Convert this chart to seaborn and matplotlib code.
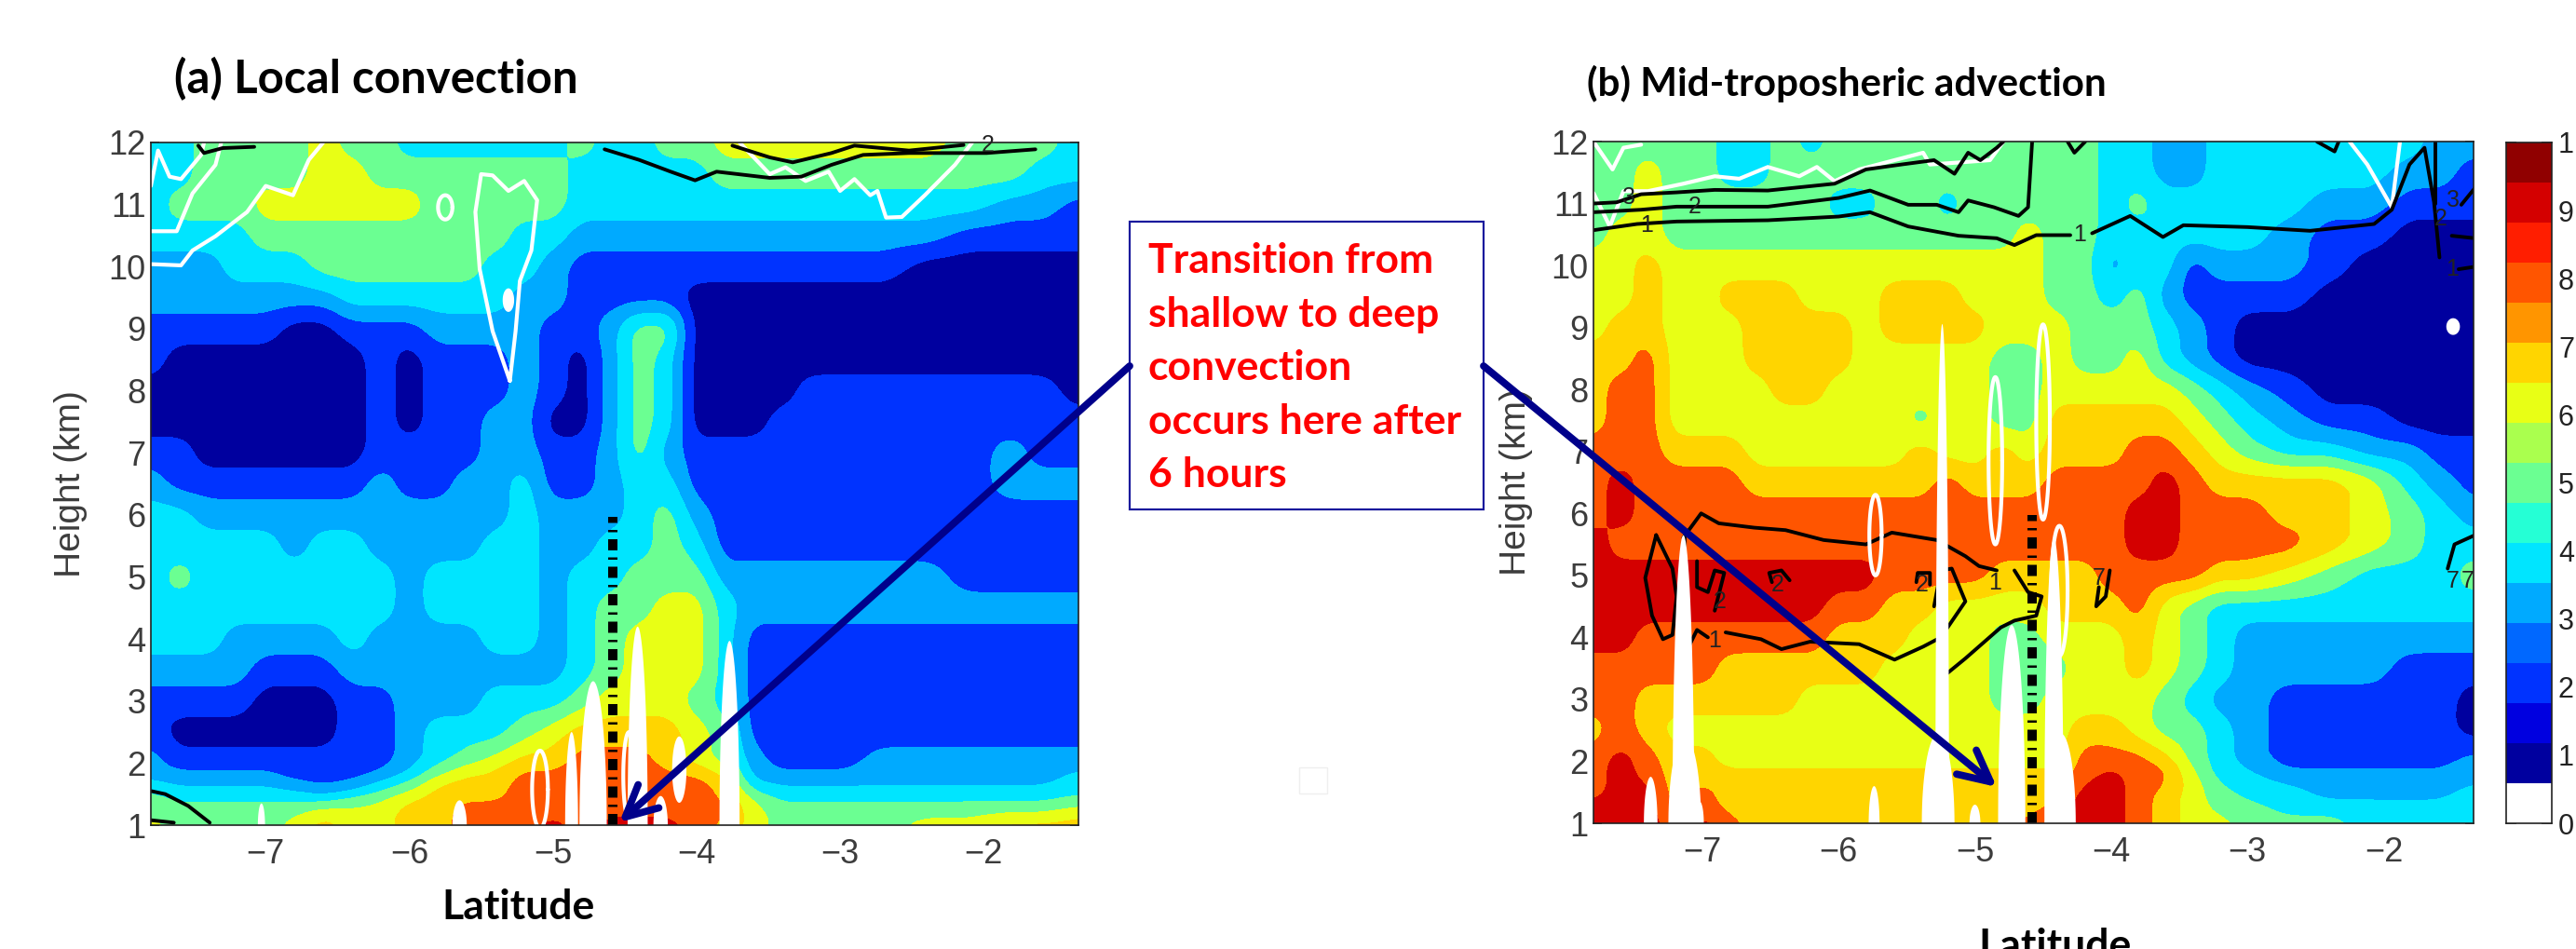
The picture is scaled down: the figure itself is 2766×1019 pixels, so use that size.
import numpy as np
import seaborn as sns
import matplotlib
matplotlib.use('Agg')
import matplotlib.pyplot as plt
from matplotlib.colors import ListedColormap
from matplotlib.patches import Rectangle

# latitude / height grid of both sections
lats = [-7.8, -7.6, -7.4, -7.2, -7.0, -6.8, -6.6, -6.4, -6.2, -6.0, -5.8, -5.6, -5.4, -5.2, -5.0, -4.8,
        -4.6, -4.4, -4.2, -4.0, -3.8, -3.6, -3.4, -3.2, -3.0, -2.7, -2.4, -2.1, -1.8, -1.6, -1.34]
heights = [12, 11.5, 11, 10.5, 10, 9.5, 9, 8.5, 8, 7.5, 7, 6.5, 6, 5.5, 5, 4.5, 4, 3.5, 3, 2.5, 2, 1.75, 1.5, 1.25, 1]

# relative humidity in tenths (top row = 12 km)
rh_local = [
    [4, 4, 5, 5, 5, 5, 6, 5, 5, 4, 4, 4, 4, 4, 4, 5, 4, 4, 5, 5, 6, 6, 6, 6, 6, 6, 6, 5, 5, 5, 4],
    [4, 4, 5, 5, 5, 5, 6, 6, 5, 5, 5, 5, 5, 5, 5, 4, 4, 4, 4, 4, 5, 5, 5, 5, 5, 5, 5, 5, 5, 4, 4],
    [4, 5, 5, 5, 6, 6, 6, 6, 6, 6, 5, 5, 5, 5, 5, 4, 4, 4, 4, 4, 4, 4, 4, 4, 4, 4, 4, 4, 3, 3, 2],
    [4, 4, 4, 4, 5, 5, 5, 5, 5, 5, 5, 5, 5, 4, 4, 3, 3, 3, 3, 3, 3, 3, 3, 3, 3, 3, 3, 2, 2, 2, 2],
    [3, 3, 3, 4, 4, 4, 5, 5, 5, 5, 5, 5, 4, 4, 3, 2, 2, 2, 2, 2, 2, 2, 2, 2, 2, 2, 1, 1, 1, 1, 1],
    [3, 3, 3, 3, 3, 3, 3, 4, 4, 4, 4, 4, 4, 3, 3, 2, 2, 2, 2, 1, 1, 1, 1, 1, 1, 1, 1, 1, 1, 1, 1],
    [2, 2, 2, 2, 2, 1, 1, 2, 2, 2, 3, 3, 3, 3, 2, 2, 3, 5, 5, 1, 1, 1, 1, 1, 1, 1, 1, 1, 1, 1, 1],
    [2, 1, 1, 1, 1, 1, 1, 1, 2, 1, 2, 2, 2, 3, 2, 1, 3, 5, 4, 1, 1, 1, 1, 1, 1, 1, 1, 1, 1, 1, 1],
    [1, 1, 1, 1, 1, 1, 1, 1, 2, 1, 2, 2, 2, 3, 2, 1, 3, 5, 4, 1, 1, 1, 1, 2, 2, 2, 2, 2, 2, 2, 1],
    [1, 1, 1, 1, 1, 1, 1, 1, 2, 1, 2, 2, 3, 3, 1, 1, 3, 5, 4, 1, 1, 1, 2, 2, 2, 2, 2, 2, 2, 2, 2],
    [2, 2, 1, 1, 1, 1, 1, 1, 2, 2, 2, 2, 3, 3, 2, 2, 3, 5, 3, 2, 2, 2, 2, 2, 2, 2, 2, 2, 3, 2, 2],
    [3, 2, 2, 2, 2, 2, 2, 2, 3, 2, 2, 3, 3, 4, 2, 2, 3, 4, 4, 2, 2, 2, 2, 2, 2, 2, 2, 2, 3, 3, 3],
    [4, 4, 3, 3, 3, 3, 3, 3, 3, 3, 3, 3, 3, 4, 3, 3, 3, 4, 5, 3, 2, 2, 2, 2, 2, 2, 2, 2, 2, 2, 2],
    [4, 4, 4, 4, 4, 3, 4, 4, 3, 3, 3, 3, 4, 4, 3, 3, 4, 4, 5, 4, 2, 2, 2, 2, 2, 2, 2, 2, 2, 2, 2],
    [4, 5, 4, 4, 4, 4, 4, 4, 4, 3, 4, 4, 4, 4, 3, 4, 4, 5, 5, 5, 3, 3, 3, 3, 3, 3, 3, 2, 2, 2, 2],
    [4, 4, 4, 4, 4, 4, 4, 4, 4, 3, 4, 4, 4, 4, 3, 4, 5, 5, 6, 6, 4, 3, 3, 3, 3, 3, 3, 3, 3, 3, 3],
    [4, 4, 4, 3, 3, 3, 3, 4, 3, 3, 3, 3, 4, 4, 3, 4, 5, 6, 6, 6, 4, 2, 2, 2, 2, 2, 2, 2, 2, 2, 2],
    [3, 3, 3, 3, 2, 2, 2, 3, 3, 3, 3, 3, 3, 3, 3, 4, 5, 6, 6, 6, 4, 2, 2, 2, 2, 2, 2, 2, 2, 2, 2],
    [2, 2, 2, 2, 1, 1, 1, 2, 2, 3, 3, 3, 4, 4, 4, 5, 6, 6, 6, 5, 4, 2, 2, 2, 2, 2, 2, 2, 2, 2, 2],
    [2, 1, 1, 1, 1, 1, 1, 2, 2, 3, 4, 4, 4, 5, 6, 7, 7, 7, 7, 6, 5, 2, 2, 2, 2, 2, 2, 2, 2, 2, 2],
    [3, 2, 2, 2, 2, 2, 2, 2, 2, 3, 4, 5, 6, 7, 7, 8, 8, 8, 7, 6, 5, 3, 2, 2, 2, 3, 3, 3, 3, 3, 3],
    [3, 3, 3, 3, 3, 2, 2, 2, 3, 4, 6, 7, 7, 8, 8, 8, 8, 8, 8, 8, 7, 3, 3, 3, 3, 3, 3, 3, 3, 3, 4],
    [5, 4, 4, 4, 4, 4, 3, 4, 5, 6, 7, 7, 7, 8, 8, 8, 8, 8, 8, 8, 7, 5, 4, 4, 4, 4, 4, 4, 4, 4, 4],
    [5, 5, 5, 5, 5, 5, 6, 6, 6, 7, 7, 8, 8, 8, 8, 8, 8, 8, 8, 8, 8, 6, 5, 5, 5, 5, 5, 5, 5, 5, 6],
    [6, 5, 5, 5, 5, 6, 7, 6, 6, 7, 7, 8, 8, 8, 9, 8, 9, 9, 9, 8, 7, 6, 5, 5, 5, 5, 6, 6, 7, 7, 7],
]
rh_advection = [
    [5, 5, 5, 5, 5, 4, 4, 5, 4, 5, 5, 5, 5, 5, 5, 5, 5, 5, 5, 4, 4, 3, 3, 4, 4, 4, 4, 4, 4, 3, 3],
    [5, 5, 6, 5, 5, 4, 4, 5, 5, 5, 5, 5, 5, 5, 5, 5, 5, 5, 5, 4, 4, 3, 3, 4, 4, 4, 4, 4, 3, 3, 2],
    [5, 5, 6, 5, 5, 5, 5, 5, 5, 4, 4, 5, 5, 4, 5, 5, 5, 5, 5, 4, 5, 4, 4, 4, 4, 4, 3, 3, 2, 2, 2],
    [5, 6, 6, 5, 5, 5, 5, 5, 5, 5, 5, 5, 5, 5, 5, 5, 6, 5, 5, 4, 4, 4, 4, 4, 4, 3, 2, 2, 1, 1, 1],
    [6, 6, 7, 6, 6, 6, 6, 6, 6, 6, 6, 6, 6, 6, 6, 6, 6, 5, 5, 3, 4, 4, 2, 3, 3, 3, 2, 1, 1, 1, 1],
    [6, 6, 7, 6, 6, 7, 7, 7, 6, 6, 6, 7, 7, 7, 6, 6, 6, 5, 5, 4, 5, 3, 2, 2, 2, 2, 1, 1, 1, 1, 1],
    [6, 7, 7, 6, 6, 6, 7, 7, 7, 7, 6, 7, 7, 7, 7, 6, 6, 6, 5, 5, 5, 4, 3, 2, 1, 1, 1, 1, 1, 1, 1],
    [7, 7, 8, 6, 6, 6, 7, 7, 7, 7, 6, 6, 6, 6, 6, 5, 5, 6, 5, 5, 6, 4, 3, 2, 1, 1, 1, 1, 1, 1, 1],
    [7, 8, 8, 6, 6, 6, 6, 7, 7, 6, 6, 6, 6, 6, 6, 5, 5, 6, 6, 6, 6, 6, 5, 4, 3, 2, 1, 1, 1, 1, 1],
    [7, 8, 8, 6, 6, 6, 6, 6, 6, 6, 6, 6, 5, 6, 6, 5, 5, 7, 7, 7, 7, 7, 6, 5, 4, 3, 2, 2, 1, 1, 1],
    [8, 8, 8, 7, 7, 7, 6, 6, 6, 6, 6, 6, 7, 6, 6, 7, 6, 7, 7, 7, 8, 8, 7, 6, 5, 4, 4, 3, 3, 2, 2],
    [8, 9, 8, 8, 8, 8, 7, 7, 7, 7, 7, 7, 7, 8, 7, 7, 7, 8, 8, 8, 8, 9, 8, 7, 7, 7, 7, 6, 4, 3, 2],
    [8, 9, 8, 8, 8, 8, 8, 8, 8, 8, 8, 8, 8, 8, 8, 8, 8, 8, 8, 8, 9, 9, 8, 8, 8, 7, 7, 6, 5, 4, 3],
    [9, 8, 8, 8, 8, 8, 8, 8, 8, 8, 8, 8, 8, 8, 8, 8, 8, 8, 8, 8, 9, 9, 8, 8, 8, 8, 7, 6, 5, 4, 4],
    [9, 9, 9, 9, 9, 9, 9, 9, 9, 9, 9, 8, 8, 8, 8, 7, 7, 7, 7, 8, 8, 8, 8, 7, 7, 6, 5, 4, 4, 4, 5],
    [9, 9, 9, 9, 9, 9, 9, 9, 9, 8, 8, 7, 7, 6, 6, 6, 6, 7, 7, 7, 8, 6, 5, 4, 4, 4, 4, 4, 4, 4, 4],
    [9, 9, 8, 8, 8, 8, 8, 8, 8, 7, 7, 7, 6, 6, 6, 5, 5, 6, 6, 6, 7, 6, 5, 4, 3, 3, 3, 3, 3, 3, 3],
    [8, 8, 8, 8, 8, 7, 7, 7, 7, 7, 7, 6, 6, 6, 6, 5, 5, 5, 6, 6, 7, 6, 5, 4, 3, 3, 3, 3, 2, 2, 2],
    [8, 8, 7, 7, 7, 7, 7, 7, 6, 6, 6, 6, 6, 6, 6, 5, 5, 6, 6, 6, 6, 5, 4, 3, 3, 2, 2, 2, 2, 2, 1],
    [7, 8, 7, 6, 6, 6, 6, 6, 6, 6, 6, 6, 6, 6, 6, 6, 6, 6, 7, 7, 6, 5, 5, 4, 3, 2, 2, 2, 2, 2, 1],
    [8, 9, 8, 7, 7, 6, 6, 6, 6, 6, 6, 6, 6, 6, 6, 6, 6, 6, 8, 8, 8, 7, 5, 4, 3, 2, 2, 2, 2, 2, 3],
    [8, 9, 8, 7, 7, 7, 7, 7, 7, 7, 7, 7, 7, 7, 7, 7, 7, 7, 8, 9, 8, 8, 6, 4, 4, 3, 3, 3, 3, 3, 3],
    [8, 9, 9, 7, 8, 7, 7, 7, 7, 7, 7, 7, 7, 7, 7, 7, 7, 7, 9, 9, 8, 7, 6, 5, 4, 4, 3, 3, 3, 3, 4],
    [9, 9, 9, 7, 8, 7, 7, 7, 6, 7, 7, 7, 7, 7, 7, 7, 7, 8, 9, 9, 8, 7, 6, 5, 5, 4, 4, 4, 4, 4, 4],
    [9, 9, 9, 8, 9, 8, 7, 7, 7, 7, 7, 7, 7, 7, 7, 7, 8, 8, 9, 9, 8, 7, 6, 6, 5, 5, 5, 4, 4, 4, 4],
]

# white blobs and spikes: latitude, lower and upper height, half width
a_blob_lat = [-7.03, -5.65, -4.87, -4.72, -4.41, -4.25, -4.12, -3.77, -5.31]
a_blob_low = [0.65, 0.6, -0.5, -1.32, -2.2, 0.53, 1.36, -1.97, 9.27]
a_blob_high = [1.35, 1.4, 2.5, 3.32, 4.2, 1.47, 2.43, 3.97, 9.65]
a_blob_hw = [0.025, 0.05, 0.045, 0.095, 0.07, 0.05, 0.05, 0.07, 0.04]
b_blob_lat = [-7.14, -7.13, -7.38, -7.02, -5.24, -5.27, -5.74, -5.0, -4.73, -4.42, -4.37, -1.49]
b_blob_low = [-3.65, -0.4, 0.25, 0.65, -7.06, -0.45, 0.4, 0.7, -2.2, -3.6, -0.45, 8.88]
b_blob_high = [5.65, 2.4, 1.75, 1.35, 9.06, 2.45, 1.6, 1.3, 4.2, 5.6, 2.45, 9.15]
b_blob_hw = [0.08, 0.12, 0.05, 0.03, 0.05, 0.12, 0.04, 0.04, 0.10, 0.07, 0.11, 0.05]

# white rings
a_ring_lat = [-5.09, -5.75, -4.47]
a_ring_low = [0.95, 10.76, 1.1]
a_ring_high = [2.2, 11.15, 2.5]
a_ring_hw = [0.055, 0.05, 0.04]
b_ring_lat = [-5.73, -4.85, -4.5, -4.38]
b_ring_low = [5.0, 5.5, 5.9, 3.7]
b_ring_high = [6.3, 8.2, 9.05, 5.8]
b_ring_hw = [0.045, 0.05, 0.05, 0.06]

# contour traces, (latitude, height)
a_white_lines = [
    [(-5.3, 8.16), (-5.42, 8.96), (-5.51, 9.96), (-5.54, 10.88), (-5.5, 11.49), (-5.42, 11.47), (-5.31, 11.22),
     (-5.2, 11.38), (-5.11, 11.07), (-5.15, 10.26), (-5.23, 9.77), (-5.26, 8.96), (-5.3, 8.16)],
    [(-7.8, 10.04), (-7.59, 10.02), (-7.51, 10.26), (-7.35, 10.49), (-7.13, 10.88), (-7, 11.3), (-6.81, 11.15),
     (-6.7, 11.72), (-6.6, 12)],
    [(-7.8, 10.57), (-7.62, 10.57), (-7.51, 11.18), (-7.35, 11.64), (-7.31, 12)],
    [(-7.8, 11.3), (-7.75, 11.87), (-7.67, 11.45), (-7.59, 11.41), (-7.45, 11.8), (-7.43, 12)],
    [(-3.7, 12), (-3.49, 11.49), (-3.38, 11.6), (-3.24, 11.38), (-3.08, 11.53), (-3, 11.22), (-2.9, 11.41),
     (-2.79, 11.15), (-2.74, 11.22), (-2.68, 10.79), (-2.57, 10.8), (-2.41, 11.15), (-2.2, 11.64), (-2.08, 12)],
]
a_black_lines = [
    [(-4.64, 11.89), (-4.4, 11.72), (-4.18, 11.53), (-4.01, 11.39), (-3.86, 11.53), (-3.49, 11.43), (-3.27, 11.45),
     (-3.06, 11.64), (-2.84, 11.8), (-2.52, 11.83), (-1.98, 11.83), (-1.64, 11.89)],
    [(-3.75, 11.95), (-3.49, 11.76), (-3.33, 11.68), (-3.06, 11.83), (-2.9, 11.95), (-2.52, 11.87), (-2.14, 11.96)],
    [(-7.47, 11.95), (-7.43, 11.83), (-7.3, 11.91), (-7.08, 11.93)],
    [(-7.8, 1.55), (-7.7, 1.5), (-7.54, 1.31), (-7.39, 1.04)],
    [(-7.8, 1.08), (-7.64, 1.04)],
]
b_white_lines = [
    [(-7.8, 12), (-7.66, 11.55), (-7.58, 11.9), (-7.45, 11.95)],
    [(-7.8, 11.17), (-7.68, 10.63), (-7.58, 11.2), (-7.4, 11.2), (-7.14, 11.32), (-6.91, 11.44), (-6.73, 11.4),
     (-6.52, 11.59), (-6.29, 11.44), (-6.16, 11.59), (-6.03, 11.36), (-5.85, 11.55), (-5.59, 11.7), (-5.38, 11.82),
     (-5.33, 11.63), (-5.07, 11.67), (-4.89, 11.7), (-4.79, 12)],
    [(-2.25, 12), (-2.12, 11.63), (-1.94, 10.94), (-1.88, 12)],
]
b_black_lines = [
    [(-7.8, 11.0), (-7.63, 11.02), (-7.45, 11.15), (-7.19, 11.18), (-6.91, 11.22), (-6.52, 11.21), (-6.03, 11.32),
     (-5.8, 11.55), (-5.54, 11.63), (-5.3, 11.7), (-5.15, 11.48), (-5.05, 11.82), (-4.96, 11.7), (-4.84, 11.9),
     (-4.79, 12)],
    [(-7.8, 10.86), (-7.45, 10.9), (-7.19, 10.95), (-6.98, 10.95), (-6.52, 10.95), (-6.0, 11.09), (-5.77, 11.21),
     (-5.49, 10.98), (-5.28, 10.98), (-5.12, 10.86), (-5.05, 11.05), (-4.86, 10.94), (-4.68, 10.8), (-4.61, 10.94),
     (-4.58, 12)],
    [(-7.8, 10.57), (-7.48, 10.67), (-7.19, 10.71), (-6.52, 10.73), (-6.0, 10.79), (-5.77, 10.86), (-5.49, 10.63),
     (-5.12, 10.48), (-4.84, 10.44), (-4.71, 10.33), (-4.55, 10.49), (-4.3, 10.49)],
    [(-4.14, 10.52), (-3.86, 10.8), (-3.62, 10.46), (-3.47, 10.65), (-3.0, 10.62), (-2.54, 10.56), (-2.07, 10.67),
     (-1.94, 10.9), (-1.81, 11.63), (-1.7, 11.9), (-1.63, 11.02), (-1.59, 10.13)],
    [(-7.14, 5.61), (-7.01, 6.0), (-6.88, 5.84), (-6.62, 5.77), (-6.39, 5.73), (-6.11, 5.57), (-5.8, 5.5),
     (-5.61, 5.69), (-5.28, 5.57), (-5.07, 5.31), (-4.97, 5.15), (-4.84, 5.08)],
    [(-7.13, 5.61), (-7.14, 4.96), (-7.11, 3.81), (-7.04, 4.12), (-6.96, 4.0)],
    [(-6.83, 4.08), (-6.57, 3.97), (-6.42, 3.81), (-6.21, 3.93), (-5.85, 3.89), (-5.59, 3.64), (-5.38, 3.85),
     (-5.25, 4.0), (-5.22, 3.39), (-5.07, 3.66), (-4.81, 4.16), (-4.71, 4.27), (-4.55, 4.35), (-4.51, 4.66),
     (-4.61, 4.73), (-4.71, 5.08)],
    [(-7.34, 5.65), (-7.42, 4.96), (-7.37, 4.35), (-7.29, 3.97), (-7.22, 4.04), (-7.19, 4.66), (-7.22, 5.11),
     (-7.34, 5.65)],
    [(-7.04, 5.23), (-7.04, 4.81), (-6.96, 4.73), (-6.91, 5.08), (-6.84, 5.04), (-6.91, 4.43)],
    [(-6.49, 4.89), (-6.51, 5.04), (-6.42, 5.08), (-6.36, 4.92)],
    [(-5.43, 4.89), (-5.42, 5.04), (-5.33, 5.04), (-5.33, 4.85)],
    [(-5.3, 4.5), (-5.25, 5.08), (-5.17, 5.11), (-5.07, 4.58), (-5.25, 4.0)],
    [(-4.01, 5.08), (-4.04, 4.66), (-4.11, 4.5), (-4.09, 4.81)],
    [(-1.53, 5.11), (-1.48, 5.5), (-1.33, 5.65)],
    [(-1.5, 10.48), (-1.33, 10.44)],
    [(-1.45, 9.94), (-1.33, 9.98)],
    [(-4.32, 12), (-4.27, 11.82), (-4.19, 12)],
    [(-2.49, 12), (-2.36, 11.84), (-2.33, 12)],
    [(-1.62, 12), (-1.62, 11.0)],
    [(-1.33, 11.25), (-1.43, 10.98)],
]

# contour labels: (latitude, height, text)
a_line_labels = [(-1.97, 11.95, '2')]
b_line_labels = [(-7.54, 11.1, '3'), (-7.06, 10.95, '2'), (-7.41, 10.65, '1'), (-4.23, 10.49, '1'),
                 (-6.91, 3.95, '1'), (-6.87, 4.58, '2'), (-6.45, 4.85, '2'), (-5.39, 4.85, '2'),
                 (-4.85, 4.87, '1'), (-4.09, 4.95, '7'), (-1.49, 4.9, '7'), (-1.38, 4.9, '7'),
                 (-1.49, 11.05, '3'), (-1.58, 10.75, '2'), (-1.5, 9.94, '1')]

jump_lat = -4.58
jump_top = 5.97

cbar_colors = ['#ffffff', '#00009f', '#0000e0', '#0033ff', '#0068ff', '#00aaff', '#00e5ff', '#25ffd5', '#6bff92',
               '#aaff4e', '#e8ff15', '#ffd500', '#ff9500', '#ff5500', '#ff1e00', '#d40000', '#900000']
panel_colors = ['#ffffff', '#00009f', '#0033ff', '#00aaff', '#00e5ff', '#6bff92', '#e8ff15', '#ffd500', '#ff5500',
                '#d40000']
cbar_ticks = [0, 0.1, 0.2, 0.3, 0.4, 0.5, 0.6, 0.7, 0.8, 0.9, 1]
cbar_labels = ['0', '1', '2', '3', '4', '5', '6', '7', '8', '9', '1']
lat_ticks = [-7, -6, -5, -4, -3, -2]
height_ticks = list(range(1, 13))

W, H = 2766, 1019

sns.set_theme(style='ticks')
plt.rcParams['font.family'] = ['Liberation Sans', 'DejaVu Sans']
GRAY = '#3c3c3c'


def px_axes(fig, left, top, right, bottom):
    return fig.add_axes([left / W, 1 - bottom / H, (right - left) / W, (bottom - top) / H])


def ellipse(lat, low, high, hw):
    t = np.linspace(0, 2 * np.pi, 80)
    return lat + hw * np.cos(t), (low + high) / 2 + (high - low) / 2 * np.sin(t)


def trace(ax, points, color, lw):
    xs = [p[0] for p in points]
    ys = [p[1] for p in points]
    sns.lineplot(x=xs, y=ys, sort=False, estimator=None, color=color, linewidth=lw, ax=ax, legend=False)


def soften(z, xs, ys):
    # the field is read on a coarse grid, so round off the grid steps before contouring
    fine_x = np.linspace(xs[0], xs[-1], 260)
    fine_y = np.linspace(ys[0], ys[-1], 221)
    f = np.array([np.interp(fine_x, xs, row) for row in z])
    f = np.array([np.interp(fine_y, ys, col) for col in f.T]).T
    for axis, size in ((1, 7), (0, 9)):
        kernel = np.ones(size) / size
        pad = [(0, 0), (0, 0)]
        pad[axis] = (size // 2, size // 2)
        g = np.pad(f, pad, mode='edge')
        f = np.apply_along_axis(lambda m: np.convolve(m, kernel, mode='valid'), axis, g)
    return fine_x, fine_y, f


def section(ax, rh, blobs, rings, white_lines, black_lines, line_labels, palette, ylabel_pad):
    z = (np.array(rh)[::-1] + 0.5) / 10
    fx, fy, fz = soften(z, lats, heights[::-1])
    ax.contourf(fx, fy, fz, levels=np.linspace(0, 1, 11), colors=palette)
    for lat, low, high, hw in zip(*blobs):
        x, y = ellipse(lat, low, high, hw)
        ax.fill(x, y, color='white', lw=0, zorder=3)
    for lat, low, high, hw in zip(*rings):
        x, y = ellipse(lat, low, high, hw)
        ax.plot(x, y, color='white', lw=3, zorder=3)
    for line in white_lines:
        trace(ax, line, 'white', 3)
    for line in black_lines:
        trace(ax, line, 'black', 2.8)
    for lat, h, label in line_labels:
        ax.text(lat, h, label, fontsize=18, color='#222222', ha='center', va='center', zorder=5)
    # dash-dot marker of the transition point
    ax.plot([jump_lat, jump_lat], [1, jump_top], color='black', lw=7.2, solid_capstyle='butt',
            linestyle=(0, (1.2, 0.75, 0.25, 0.75)), dash_capstyle='butt', zorder=6)
    ax.set_xlim(-7.8, -1.34)
    ax.set_ylim(1, 12)
    ax.set_xticks(lat_ticks)
    ax.set_xticklabels(['\u2212%d' % abs(t) for t in lat_ticks])
    ax.set_yticks(height_ticks)
    ax.set_xlabel('')
    ax.set_ylabel('Height (km)', fontsize=28, color=GRAY, labelpad=ylabel_pad)
    ax.tick_params(axis='both', which='major', direction='in', length=6.5, width=1.1, top=True, right=True,
                   labelsize=26, labelcolor=GRAY, color='#222222', pad=4)
    ax.tick_params(axis='x', pad=10)
    for side in ax.spines.values():
        side.set_linewidth(1.2)
        side.set_color('#222222')
        side.set_zorder(8)


fig = plt.figure(figsize=(W / 100, H / 100), dpi=100, facecolor='white')

palette = sns.color_palette(panel_colors)
ax_a = px_axes(fig, 162, 153, 1158, 886)
section(ax_a, rh_local, (a_blob_lat, a_blob_low, a_blob_high, a_blob_hw),
        (a_ring_lat, a_ring_low, a_ring_high, a_ring_hw), a_white_lines, a_black_lines, a_line_labels, palette, 16)
ax_b = px_axes(fig, 1711, 152, 2656, 884)
section(ax_b, rh_advection, (b_blob_lat, b_blob_low, b_blob_high, b_blob_hw),
        (b_ring_lat, b_ring_low, b_ring_high, b_ring_hw), b_white_lines, b_black_lines, b_line_labels, palette, 14)

# colorbar
cax = px_axes(fig, 2691, 153, 2740, 884)
n = len(cbar_colors)
sns.heatmap(np.arange(n)[::-1].reshape(-1, 1), cmap=ListedColormap(cbar_colors), cbar=False, ax=cax,
            xticklabels=False, yticklabels=False, vmin=-0.5, vmax=n - 0.5)
cax.yaxis.tick_right()
cax.set_yticks([(1 - t) * n for t in cbar_ticks])
cax.set_yticklabels(cbar_labels)
cax.tick_params(axis='y', direction='in', length=8, width=1.1, labelsize=22, labelcolor='#222222',
                color='#222222', pad=5, left=True, right=True, labelright=True, labelleft=False)
for side in cax.spines.values():
    side.set_visible(True)
    side.set_linewidth(1.2)
    side.set_color('#222222')

# overlay in pixel coordinates for the slide annotations
over = fig.add_axes([0, 0, 1, 1], zorder=20)
over.set_xlim(0, W)
over.set_ylim(H, 0)
over.axis('off')
over.patch.set_alpha(0)
bold = ['Lato', 'DejaVu Sans']
over.text(187, 85, '(a) Local convection', fontsize=35.5, fontweight='bold', family=bold, color='black', va='center')
over.text(1704, 90, '(b) Mid-troposheric advection', fontsize=30.3, fontweight='bold', family=bold, color='black',
          va='center')
over.text(557, 974, 'Latitude', fontsize=32, fontweight='bold', family=bold, color='black', ha='center', va='center')
over.text(2207, 1016, 'Latitude', fontsize=32, fontweight='bold', family=bold, color='black', ha='center',
          va='center', clip_on=False)
over.add_patch(Rectangle((1213, 238), 380, 309, facecolor='white', edgecolor='#1a1a9c', lw=1.6))
over.add_patch(Rectangle((1395, 824), 30, 28, facecolor='none', edgecolor='#efefef', lw=1))
box_lines = ['Transition from', 'shallow to deep', 'convection', 'occurs here after', '6 hours']
for i, line in enumerate(box_lines):
    over.text(1233, 280 + i * 57.5, line, fontsize=32, fontweight='bold', family=bold, color='#ff0000', va='center')
for start, tip in [((1213, 393), (665, 883)), ((1593, 393), (2144, 845))]:
    over.annotate('', xy=tip, xytext=start,
                  arrowprops=dict(arrowstyle='->,head_length=0.8,head_width=0.4', lw=5.6, color='#00008b',
                                  mutation_scale=30, shrinkA=0, shrinkB=0))

fig.savefig('out.png', dpi=100)
